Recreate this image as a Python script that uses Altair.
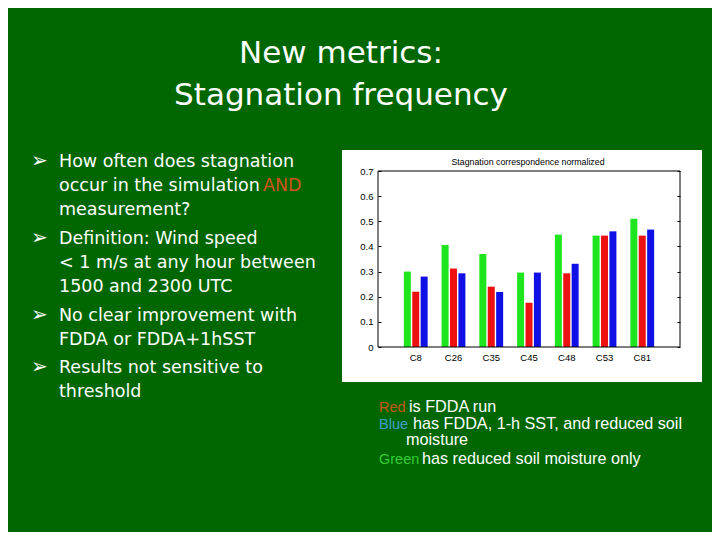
import altair as alt
import pandas as pd

# ---------------- data ----------------
stations = ["C8", "C26", "C35", "C45", "C48", "C53", "C81"]
series = ["Reduced soil moisture", "FDDA", "FDDA + 1-h SST + soil"]
green_vals = [0.300, 0.406, 0.370, 0.296, 0.447, 0.443, 0.510]
red_vals = [0.220, 0.312, 0.240, 0.176, 0.293, 0.443, 0.443]
blue_vals = [0.280, 0.293, 0.219, 0.296, 0.331, 0.460, 0.467]
bar_colors = ["#1fe51f", "#ee1111", "#1010e6"]
y_ticks = [0, 0.1, 0.2, 0.3, 0.4, 0.5, 0.6, 0.7]

title_lines = ["New metrics:", "Stagnation frequency"]
bullet_lines = [
    "How often does stagnation",
    "occur in the simulation ",
    "measurement?",
    "Definition:  Wind speed",
    "< 1 m/s at any hour between",
    "1500 and 2300 UTC",
    "No clear improvement with",
    "FDDA or FDDA+1hSST",
    "Results not sensitive to",
    "threshold",
]
highlight_word = "AND"
chart_title = "Stagnation correspondence normalized"
legend_words = ["Red", "Blue", "Green"]
legend_rest = ["is FDDA run", "has FDDA, 1-h SST, and reduced soil", "moisture",
               "has reduced soil moisture only"]

rows = []
for s, vals in zip(series, [green_vals, red_vals, blue_vals]):
    for st, v in zip(stations, vals):
        rows.append({"station": st, "series": s, "value": v})
df = pd.DataFrame(rows)

# ---------------- layout (page pixels) ----------------
X0, Y0 = 378, 171          # plot origin on page
W, H = 302, 176
BG = "#006600"


def label(s, px, py, size, color="white", font="DejaVu Sans", align="left",
          baseline="alphabetic"):
    return alt.Chart(pd.DataFrame({"t": [s]})).mark_text(
        align=align, baseline=baseline, font=font, fontSize=size, color=color
    ).encode(x=alt.value(px - X0), y=alt.value(py - Y0), text="t:N")


one = pd.DataFrame({"k": [0]})
white_box = alt.Chart(one).mark_rect(color="white").encode(
    x=alt.value(342 - X0), x2=alt.value(702 - X0),
    y=alt.value(150 - Y0), y2=alt.value(382 - Y0))

x_enc = alt.X("station:N", sort=stations, title=None,
              scale=alt.Scale(paddingOuter=0.5, paddingInner=0),
              axis=alt.Axis(labelAngle=0, domain=False, ticks=False, labelPadding=5,
                            labelFont="Liberation Sans", labelFontSize=9.5,
                            labelColor="black", zindex=1))
xo_enc = alt.XOffset("series:N", sort=series,
                     scale=alt.Scale(paddingInner=0.167, paddingOuter=0.83))
y_scale = alt.Scale(domain=[0, 0.7], nice=False)
lab_expr = "datum.value == 0 ? '0' : format(datum.value, '.1f')"

bars = alt.Chart(df).mark_bar().encode(
    x=x_enc, xOffset=xo_enc,
    y=alt.Y("value:Q", scale=y_scale, title=None,
            axis=alt.Axis(values=y_ticks, grid=False, domain=False, offset=-3,
                          tickSize=3, tickColor="black", labelPadding=5,
                          labelExpr=lab_expr, labelFont="Liberation Sans",
                          labelFontSize=9.5, labelColor="black", zindex=1)),
    color=alt.Color("series:N", scale=alt.Scale(domain=series, range=bar_colors),
                    legend=None),
)

right_axis = alt.Chart(df).mark_bar(opacity=0).encode(
    x=x_enc,
    xOffset=xo_enc,
    y=alt.Y("value:Q", scale=y_scale, title=None,
            axis=alt.Axis(orient="right", values=y_ticks, grid=False, domain=False,
                          offset=-3, tickSize=3, tickColor="black", labels=False,
                          zindex=1)),
)

frame = alt.Chart(one).mark_rect(filled=False, stroke="black", strokeWidth=1).encode(
    x=alt.value(0), x2=alt.value(W), y=alt.value(0), y2=alt.value(H))

layers = [white_box, bars, right_axis, frame,
          label(chart_title, 528, 165, 8.8, color="black", font="Liberation Sans",
                align="center")]

# slide title
layers.append(label(title_lines[0], 341, 63, 31, align="center"))
layers.append(label(title_lines[1], 341, 105, 31, align="center"))

# bullets
baselines = [167, 191, 215, 244, 268, 292, 321, 345, 373, 397]
bullet_starts = [0, 3, 6, 8]
for i, (line, yb) in enumerate(zip(bullet_lines, baselines)):
    layers.append(label(line, 59, yb, 17.5))
    if i in bullet_starts:
        layers.append(label("\u27a2", 31, yb, 20))
layers.append(label(highlight_word, 263, baselines[1], 17.5, color="#d2521c"))

# legend text under chart
legend_font = "Liberation Sans"
LF, CF = 16.2, 14.5
layers.append(label(legend_words[0], 379, 412, CF, color="#c8561e", font=legend_font))
layers.append(label(legend_rest[0], 409, 412, LF, font=legend_font))
layers.append(label(legend_words[1], 379, 429, CF, color="#3d9fc8", font=legend_font))
layers.append(label(legend_rest[1], 413, 429, LF, font=legend_font))
layers.append(label(legend_rest[2], 406, 445, LF, font=legend_font))
layers.append(label(legend_words[2], 379, 464, CF, color="#33cc33", font=legend_font))
layers.append(label(legend_rest[3], 422, 464, LF, font=legend_font))

chart = alt.layer(*layers).resolve_axis(y="independent").resolve_scale(
    y="shared").properties(
    width=W, height=H,
    autosize=alt.AutoSizeParams(type="none"),
    padding={"left": X0 - 8, "top": Y0 - 8, "right": 720 - 8 - (X0 + W),
             "bottom": 540 - 8 - (Y0 + H)},
).configure(background=BG).configure_view(stroke=None)

chart.save("out.html", embed_options={"renderer": "svg", "actions": False})
